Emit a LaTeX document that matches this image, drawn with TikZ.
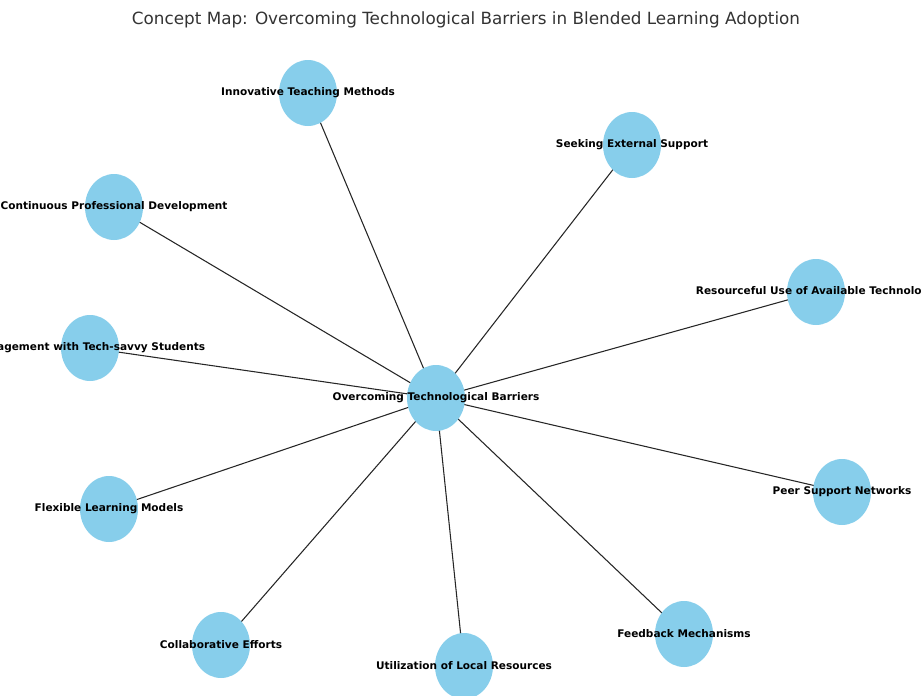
\documentclass[tikz,border=0pt]{standalone}
\usepackage{fontspec}
\setmainfont{DejaVu Sans}
\usepackage{xcolor}
\usetikzlibrary{shapes.geometric, backgrounds}
\definecolor{skyblue}{HTML}{87CEEB}

\begin{document}
\begin{tikzpicture}[x=0.75pt, y=-0.75pt,
    concept/.style={ellipse, fill=skyblue, inner sep=0pt, minimum width=43.5pt, minimum height=49.5pt},
    conlabel/.style={font=\bfseries\fontsize{7.9}{9.5}\selectfont, text=black},
    link/.style={black!85, line width=0.8pt}]
    \useasboundingbox (0,0) rectangle (922,696);
    \clip (0,0) rectangle (922,696);
    \node[font=\fontsize{12.6}{15}\selectfont, text=black!80] (title) at (466,20) {Concept Map: Overcoming Technological Barriers in Blended Learning Adoption};

    \node[concept, label={[conlabel]center:Overcoming Technological Barriers}] (ctr) at (436,398) {};
    \node[concept, label={[conlabel]center:Innovative Teaching Methods}] (innov) at (308,93) {};
    \node[concept, label={[conlabel]center:Seeking External Support}] (seek) at (632,145) {};
    \node[concept, label={[conlabel]center:Continuous Professional Development}] (cpd) at (114,207) {};
    \node[concept, label={[conlabel]center:Resourceful Use of Available Technology}] (resource) at (816,292) {};
    \node[concept, label={[conlabel]center:Engagement with Tech-savvy Students}] (engage) at (90,348) {};
    \node[concept, label={[conlabel]center:Flexible Learning Models}] (flex) at (109,509) {};
    \node[concept, label={[conlabel]center:Peer Support Networks}] (peer) at (842,492) {};
    \node[concept, label={[conlabel]center:Collaborative Efforts}] (collab) at (221,645) {};
    \node[concept, label={[conlabel]center:Utilization of Local Resources}] (local) at (464,666) {};
    \node[concept, label={[conlabel]center:Feedback Mechanisms}] (feedback) at (684,634) {};

    \begin{scope}[on background layer]
        \foreach \n in {innov, seek, cpd, resource, engage, flex, peer, collab, local, feedback}
            \draw[link] (ctr.center) -- (\n.center);
    \end{scope}
\end{tikzpicture}
\end{document}
